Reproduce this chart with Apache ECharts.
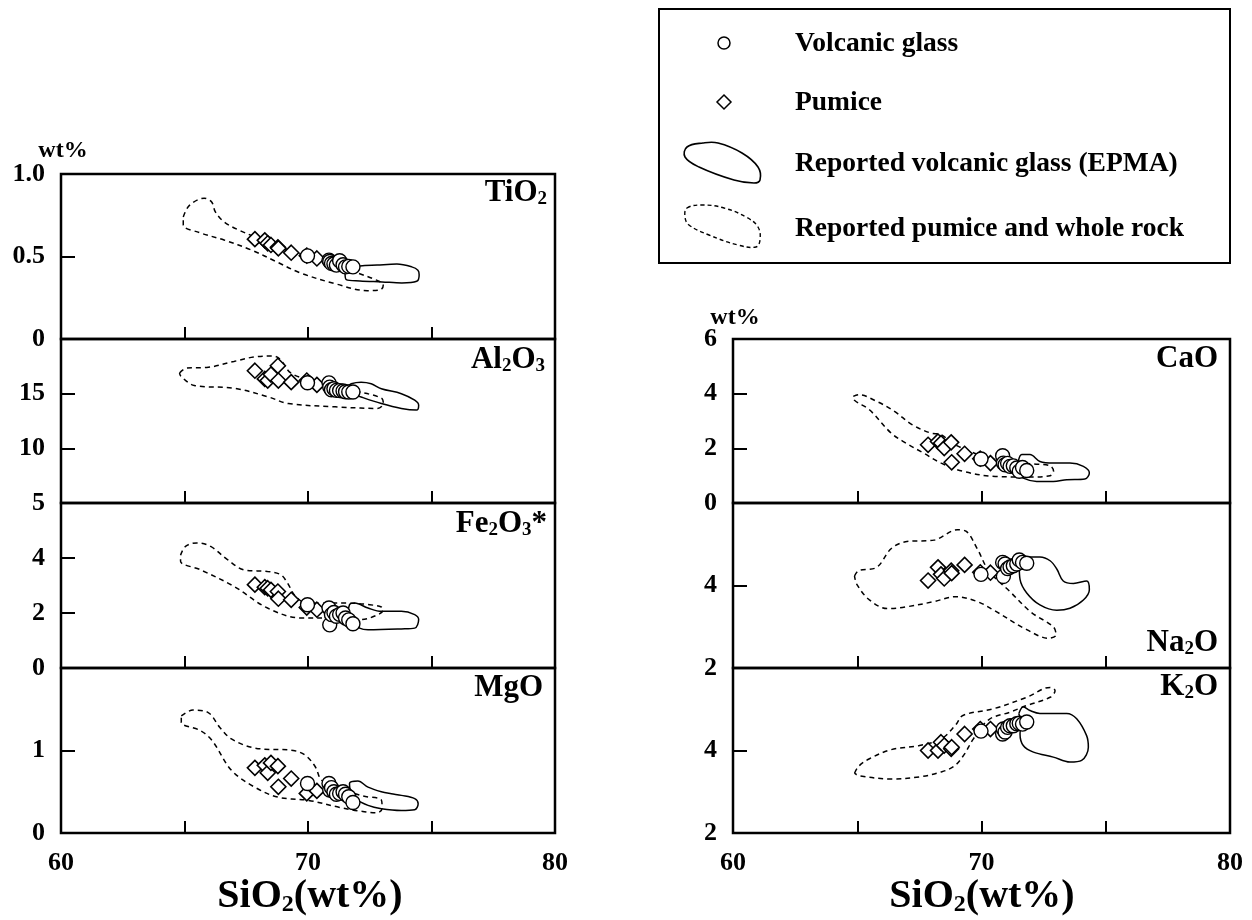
<!DOCTYPE html>
<html><head><meta charset="utf-8">
<script src="https://cdn.jsdelivr.net/npm/echarts@6/dist/echarts.min.js"></script>
<style>html,body{margin:0;padding:0;background:#fff}#c{width:1252px;height:920px}</style>
</head><body><div id="c"></div>
<script>
// ---------------- DATA ----------------
const pumiceSiO2 = [67.85, 68.25, 68.37, 68.5, 68.78, 68.8, 69.32, 69.95, 70.36];
const glassSiO2  = [69.98, 70.85, 70.88, 70.95, 71.05, 71.15, 71.28, 71.42, 71.52, 71.65, 71.82];

const pumiceTiO2  = [0.605, 0.598, 0.58, 0.57, 0.556, 0.55, 0.523, 0.505, 0.488];
const pumiceAl2O3 = [17.1, 16.35, 16.2, 16.75, 17.55, 16.2, 16.05, 16.2, 15.8];
const pumiceFe2O3 = [3.03, 2.94, 2.9, 2.84, 2.78, 2.52, 2.48, 2.2, 2.12];
const pumiceMgO   = [0.79, 0.82, 0.73, 0.85, 0.81, 0.56, 0.66, 0.48, 0.51];
const pumiceCaO   = [2.13, 2.25, 2.19, 2.01, 2.22, 1.49, 1.80, 1.62, 1.46];
const pumiceNa2O  = [4.12, 4.44, 4.27, 4.17, 4.36, 4.3, 4.50, 4.32, 4.31];
const pumiceK2O   = [4.0, 4.0, 4.2, 4.12, 4.04, 4.08, 4.40, 4.52, 4.52];

const glassTiO2  = [0.504, 0.478, 0.47, 0.458, 0.455, 0.448, 0.474, 0.45, 0.437, 0.44, 0.437];
const glassAl2O3 = [16.0, 15.99, 15.6, 15.36, 15.45, 15.3, 15.28, 15.24, 15.18, 15.15, 15.15];
const glassFe2O3 = [2.30, 2.18, 1.57, 1.94, 2.02, 1.88, 1.95, 2.0, 1.82, 1.75, 1.61];
const glassMgO   = [0.60, 0.60, 0.52, 0.55, 0.50, 0.47, 0.48, 0.50, 0.47, 0.44, 0.37];
const glassCaO   = [1.61, 1.73, 1.46, 1.40, 1.45, 1.34, 1.36, 1.28, 1.16, 1.30, 1.19];
const glassNa2O  = [4.27, 4.56, 4.22, 4.52, 4.41, 4.45, 4.48, 4.52, 4.62, 4.56, 4.54];
const glassK2O   = [4.47, 4.40, 4.52, 4.45, 4.56, 4.60, 4.60, 4.65, 4.66, 4.64, 4.69];

// Reported volcanic glass (EPMA) fields, [SiO2, oxide]
const epmaTiO2 = [[71.5,0.40],[71.6,0.43],[72.1,0.442],[72.8,0.448],[73.6,0.454],[74.2,0.437],[74.45,0.417],[74.5,0.39],[74.4,0.35],[73.8,0.34],[73.0,0.346],[72.1,0.352],[71.55,0.36]];
const epmaAl2O3 = [[71.59,15.6],[71.75,15.9],[72.15,16.04],[72.56,15.9],[72.97,15.45],[73.78,15.0],[74.32,14.4],[74.48,13.95],[74.39,13.5],[73.78,13.65],[72.97,14.1],[72.15,14.7],[71.61,15.15]];
const epmaFe2O3 = [[71.61,1.76],[71.68,2.30],[71.89,2.36],[72.43,2.18],[72.97,2.06],[73.78,2.06],[74.32,1.94],[74.48,1.76],[74.32,1.45],[73.78,1.42],[72.43,1.39],[72.09,1.45]];
const epmaMgO = [[71.75,0.435],[71.68,0.60],[72.02,0.63],[72.43,0.556],[72.97,0.50],[73.37,0.476],[73.78,0.456],[74.32,0.416],[74.46,0.355],[74.32,0.283],[73.78,0.274],[72.97,0.295],[72.43,0.335]];
const epmaCaO = [[71.48,1.52],[71.62,1.77],[71.95,1.77],[72.35,1.52],[72.89,1.46],[73.56,1.46],[74.1,1.34],[74.34,1.10],[74.16,0.88],[73.43,0.85],[72.89,0.79],[72.22,0.79],[71.68,0.91],[71.48,1.10]];
const epmaNa2O = [[71.52,4.48],[71.75,4.69],[72.35,4.69],[72.76,4.60],[73.03,4.40],[73.29,4.11],[73.7,4.05],[74.23,4.11],[74.34,3.90],[74.1,3.65],[73.56,3.45],[73.03,3.40],[72.35,3.53],[71.82,3.82],[71.55,4.15]];
const epmaK2O = [[71.5,4.89],[71.68,5.06],[71.95,4.97],[72.35,4.90],[73.43,4.90],[73.83,4.77],[74.23,4.36],[74.3,4.08],[74.03,3.76],[73.56,3.72],[72.89,3.84],[72.09,3.96],[71.68,4.12],[71.55,4.40],[71.6,4.68]];

// Reported pumice and whole rock fields
const rockTiO2 = [[64.95,0.74],[65.2,0.81],[65.8,0.853],[66.1,0.83],[66.25,0.77],[66.6,0.71],[67.2,0.66],[68.0,0.61],[69.0,0.55],[70.0,0.50],[71.0,0.45],[72.0,0.40],[72.8,0.355],[73.05,0.33],[72.95,0.30],[72.4,0.293],[71.1,0.335],[69.7,0.40],[68.7,0.47],[67.7,0.54],[66.6,0.60],[65.6,0.645],[64.95,0.69]];
const rockAl2O3 = [[64.8,16.9],[65.1,17.35],[65.9,17.4],[67.0,17.95],[67.8,18.35],[68.55,18.45],[68.85,18.2],[69.3,16.9],[70.0,16.3],[71.0,15.7],[72.0,15.2],[72.97,14.6],[73.05,14.1],[72.8,13.65],[71.1,13.8],[69.2,14.1],[68.4,14.7],[67.0,15.5],[65.4,15.75],[64.85,16.6]];
const rockFe2O3 = [[64.84,4.1],[65.04,4.42],[65.5,4.55],[66.06,4.42],[66.74,3.94],[67.41,3.57],[68.36,3.51],[68.9,3.39],[69.17,3.09],[69.5,2.6],[70.0,2.35],[70.8,2.36],[71.6,2.36],[72.5,2.3],[72.97,2.22],[73.04,2.1],[72.83,1.94],[72.15,1.76],[71.07,1.82],[69.72,1.82],[68.36,2.18],[67.0,2.97],[65.65,3.57],[64.84,3.88]];
const rockMgO = [[64.87,1.42],[65.34,1.49],[65.96,1.46],[66.43,1.28],[66.9,1.14],[67.84,1.03],[69.4,1.0],[69.9,0.94],[70.3,0.80],[70.55,0.64],[71.2,0.55],[72.2,0.45],[72.97,0.40],[73.0,0.30],[72.8,0.245],[72.0,0.27],[71.28,0.31],[70.03,0.395],[68.78,0.435],[67.84,0.556],[66.9,0.76],[66.12,1.12],[65.65,1.24],[64.87,1.34]];
const rockCaO = [[64.84,3.9],[65.06,3.96],[65.78,3.72],[66.5,3.35],[67.22,2.86],[67.95,2.56],[68.38,2.5],[68.81,2.2],[69.5,1.9],[70.3,1.65],[71.2,1.48],[72.2,1.42],[72.76,1.36],[72.9,1.16],[72.76,1.0],[72.0,0.95],[70.55,0.97],[69.25,1.16],[68.38,1.46],[67.66,1.83],[66.94,2.2],[66.36,2.56],[65.49,3.41],[64.9,3.75]];
const rockNa2O = [[64.89,4.23],[65.06,4.36],[65.78,4.44],[66.36,4.89],[66.94,5.06],[68.09,5.10],[69.03,5.35],[69.39,5.31],[69.83,4.89],[70.3,4.35],[71.15,3.85],[72.0,3.35],[72.89,3.0],[73.0,2.8],[72.71,2.72],[71.82,2.93],[70.5,3.4],[69.83,3.61],[68.96,3.73],[68.09,3.61],[66.94,3.48],[66.21,3.44],[65.49,3.65],[64.99,4.02]];
const rockK2O = [[64.89,3.45],[65.06,3.62],[65.49,3.8],[66.36,4.02],[67.51,4.12],[68.38,4.28],[68.96,4.62],[69.25,4.85],[70.47,5.01],[71.82,5.29],[72.76,5.53],[72.96,5.45],[72.76,5.29],[71.82,5.09],[71.15,4.93],[70.3,4.75],[69.67,4.28],[69.3,3.9],[68.9,3.62],[68.38,3.48],[67.51,3.36],[66.36,3.31],[65.06,3.39]];

const xTicks = [60, 70, 80];
const legendLabels = ['Volcanic glass', 'Pumice', 'Reported volcanic glass (EPMA)', 'Reported pumice and whole rock'];

// ---------------- LAYOUT ----------------
const FONT = '"Liberation Serif", "Times New Roman", serif';
const panels = [
  {title:'{a|TiO}{s|2}', p:pumiceTiO2, g:glassTiO2, e:epmaTiO2, r:rockTiO2, min:0, max:1, iv:0.5, showMax:true, bottom:false,
   grid:{left:61, top:174, width:494, height:165}, tx:547, ty:193},
  {title:'{a|Al}{s|2}{a|O}{s|3}', p:pumiceAl2O3, g:glassAl2O3, e:epmaAl2O3, r:rockAl2O3, min:5, max:20, iv:5, showMax:false, bottom:false,
   grid:{left:61, top:339, width:494, height:164}, tx:545, ty:360},
  {title:'{a|Fe}{s|2}{a|O}{s|3}{a|*}', p:pumiceFe2O3, g:glassFe2O3, e:epmaFe2O3, r:rockFe2O3, min:0, max:6, iv:2, showMax:false, bottom:false,
   grid:{left:61, top:503, width:494, height:165}, tx:547, ty:524},
  {title:'{a|MgO}', p:pumiceMgO, g:glassMgO, e:epmaMgO, r:rockMgO, min:0, max:2, iv:1, showMax:false, bottom:true,
   grid:{left:61, top:668, width:494, height:165}, tx:543, ty:688},
  {title:'{a|CaO}', p:pumiceCaO, g:glassCaO, e:epmaCaO, r:rockCaO, min:0, max:6, iv:2, showMax:true, bottom:false,
   grid:{left:733, top:339, width:497, height:164}, tx:1218, ty:359},
  {title:'{a|Na}{s|2}{a|O}', p:pumiceNa2O, g:glassNa2O, e:epmaNa2O, r:rockNa2O, min:2, max:6, iv:2, showMax:false, bottom:false,
   grid:{left:733, top:503, width:497, height:165}, tx:1218, ty:643},
  {title:'{a|K}{s|2}{a|O}', p:pumiceK2O, g:glassK2O, e:epmaK2O, r:rockK2O, min:2, max:6, iv:2, showMax:false, bottom:true,
   grid:{left:733, top:668, width:497, height:165}, tx:1218, ty:687}
];

const grids = [], xAxes = [], yAxes = [], series = [], graphics = [];
const richTitle = {
  a:{fontSize:31, fontWeight:'bold', fontFamily:FONT, fill:'#000', lineHeight:31},
  s:{fontSize:19, fontWeight:'bold', fontFamily:FONT, fill:'#000', lineHeight:19, verticalAlign:'bottom'}
};

panels.forEach((pn, i) => {
  grids.push(Object.assign({show:true, borderColor:'#000', borderWidth:2.5, backgroundColor:'transparent'}, pn.grid));
  xAxes.push({
    type:'value', gridIndex:i, min:60, max:80, interval:5,
    axisLine:{show:false}, splitLine:{show:false},
    axisTick:{show:true, inside:true, length:12, lineStyle:{color:'#000', width:2}},
    axisLabel:{show:pn.bottom, margin:17, color:'#000', fontSize:26, fontWeight:'bold', fontFamily:FONT,
      formatter: v => (xTicks.indexOf(v) >= 0 ? String(v) : '')}
  });
  yAxes.push({
    type:'value', gridIndex:i, min:pn.min, max:pn.max, interval:pn.iv,
    axisLine:{show:false}, splitLine:{show:false},
    axisTick:{show:true, inside:true, length:14, lineStyle:{color:'#000', width:2}},
    axisLabel:{show:true, margin:16, color:'#000', fontSize:26, fontWeight:'bold', fontFamily:FONT,
      showMaxLabel:pn.showMax, showMinLabel:true,
      formatter: v => (pn.iv < 1 && v === 1 ? '1.0' : String(v))}
  });
  series.push({
    type:'line', xAxisIndex:i, yAxisIndex:i, data:pn.r.concat([pn.r[0]]), smooth:0.35, symbol:'none',
    lineStyle:{color:'#000', width:1.5, type:[5,4]}, z:2, silent:true
  });
  series.push({
    type:'line', xAxisIndex:i, yAxisIndex:i, data:pn.e.concat([pn.e[0]]), smooth:0.35, symbol:'none',
    lineStyle:{color:'#000', width:1.5}, z:2, silent:true
  });
  series.push({
    type:'scatter', xAxisIndex:i, yAxisIndex:i, data:pumiceSiO2.map((x, k) => [x, pn.p[k]]),
    symbol:'diamond', symbolSize:15, itemStyle:{color:'#fff', borderColor:'#000', borderWidth:1.6, opacity:1}, z:3
  });
  series.push({
    type:'scatter', xAxisIndex:i, yAxisIndex:i, data:glassSiO2.map((x, k) => [x, pn.g[k]]),
    symbol:'circle', symbolSize:14, itemStyle:{color:'#fff', borderColor:'#000', borderWidth:1.4, opacity:1}, z:4
  });
  graphics.push({type:'text', x:pn.tx, y:pn.ty, z:100,
    style:{text:pn.title, rich:richTitle, align:'right', verticalAlign:'middle'}});
});

// axis unit labels and x titles
const unitStyle = {fontSize:24, fontWeight:'bold', fontFamily:FONT, fill:'#000', align:'center', verticalAlign:'middle'};
graphics.push({type:'text', x:63, y:151, style:Object.assign({text:'wt%'}, unitStyle)});
graphics.push({type:'text', x:735, y:318, style:Object.assign({text:'wt%'}, unitStyle)});
const richX = {
  a:{fontSize:40, fontWeight:'bold', fontFamily:FONT, fill:'#000', lineHeight:40},
  s:{fontSize:24, fontWeight:'bold', fontFamily:FONT, fill:'#000', lineHeight:24, verticalAlign:'bottom'}
};
[310, 982].forEach(cx => graphics.push({type:'text', x:cx, y:897,
  style:{text:'{a|SiO}{s|2}{a|(wt%)}', rich:richX, align:'center', verticalAlign:'middle'}}));

// legend box
graphics.push({type:'rect', shape:{x:659, y:9, width:571, height:254}, style:{fill:'none', stroke:'#000', lineWidth:2}});
graphics.push({type:'circle', shape:{cx:724, cy:43, r:6}, style:{fill:'#fff', stroke:'#000', lineWidth:1.5}});
graphics.push({type:'polygon', shape:{points:[[724,95],[731,102],[724,109],[717,102]]}, style:{fill:'#fff', stroke:'#000', lineWidth:1.5}});
graphics.push({type:'polygon', shape:{smooth:0.4, points:[[687,147],[703,143],[718,143],[742,153],[758,167],[760,180],[754,183],[734,180],[699,167],[685,157]]},
  style:{fill:'none', stroke:'#000', lineWidth:1.6}});
graphics.push({type:'polygon', shape:{smooth:0.4, points:[[687,208],[703,205],[724,208],[746,217],[758,227],[760,240],[756,247],[738,245],[709,235],[689,225],[685,217]]},
  style:{fill:'none', stroke:'#000', lineWidth:1.4, lineDash:[4,3]}});
[43, 102, 163, 228].forEach((y, k) => graphics.push({type:'text', x:795, y:y+1,
  style:{text:legendLabels[k], fontSize:27.5, fontWeight:'bold', fontFamily:FONT, fill:'#000', align:'left', verticalAlign:'middle'}}));

const chart = echarts.init(document.getElementById('c'), null, {renderer:'canvas'});
chart.setOption({
  animation:false,
  backgroundColor:'#fff',
  grid:grids, xAxis:xAxes, yAxis:yAxes, series:series, graphic:graphics
});
</script></body></html>
